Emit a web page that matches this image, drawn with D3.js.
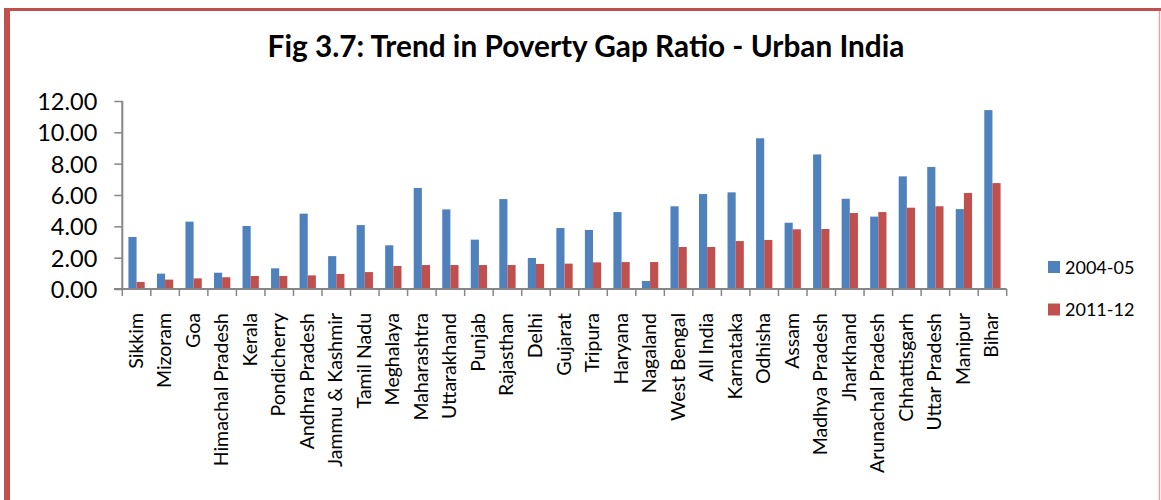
<!DOCTYPE html>
<html>
<head>
<meta charset="utf-8">
<script src="https://cdn.jsdelivr.net/npm/d3@7"></script>
<style>
    body { margin: 0; background: #fff; }
    text { font-family: Lato, "Open Sans", sans-serif; fill: #000; }
</style>
</head>
<body>
<script>
// chart data
var states = ["Sikkim", "Mizoram", "Goa", "Himachal Pradesh", "Kerala",
    "Pondicherry", "Andhra Pradesh", "Jammu & Kashmir", "Tamil Nadu",
    "Meghalaya", "Maharashtra", "Uttarakhand", "Punjab", "Rajasthan", "Delhi",
    "Gujarat", "Tripura", "Haryana", "Nagaland", "West Bengal", "All India",
    "Karnataka", "Odhisha", "Assam", "Madhya Pradesh", "Jharkhand",
    "Arunachal Pradesh", "Chhattisgarh", "Uttar Pradesh", "Manipur", "Bihar"];

var pgr2004 = [3.32, 0.98, 4.30, 1.04, 4.02, 1.32, 4.81, 2.10, 4.08, 2.79,
    6.45, 5.08, 3.15, 5.74, 1.98, 3.89, 3.77, 4.91, 0.51, 5.28, 6.06,
    6.17, 9.62, 4.23, 8.59, 5.76, 4.62, 7.19, 7.79, 5.10, 11.42];

var pgr2011 = [0.45, 0.60, 0.68, 0.75, 0.83, 0.83, 0.87, 0.96, 1.08, 1.47,
    1.53, 1.53, 1.53, 1.53, 1.60, 1.62, 1.70, 1.72, 1.72, 2.68, 2.68,
    3.06, 3.13, 3.81, 3.83, 4.85, 4.91, 5.19, 5.28, 6.13, 6.76];

var seriesNames = ["2004-05", "2011-12"];
var seriesColors = ["#4f81bd", "#c0504d"];
var yTicks = [0, 2, 4, 6, 8, 10, 12];

var W = 1161, H = 500;

var svg = d3.select("body").append("svg")
    .attr("width", W)
    .attr("height", H);

// outer chart border (bottom is cut off in the picture)
svg.append("line")
    .attr("x1", 4).attr("y1", 9.5).attr("x2", W).attr("y2", 9.5)
    .style("stroke", "#c0504d").style("stroke-width", 3);
svg.append("line")
    .attr("x1", 7).attr("y1", 8).attr("x2", 7).attr("y2", H)
    .style("stroke", "#c0504d").style("stroke-width", 6);
svg.append("line")
    .attr("x1", 1159.5).attr("y1", 11).attr("x2", 1159.5).attr("y2", H)
    .style("stroke", "#e3a3a2").style("stroke-width", 1.5);

// title, sized so it spans the same width as in the picture
var title = svg.append("text")
    .attr("x", 586)
    .attr("y", 57)
    .attr("text-anchor", "middle")
    .style("font-weight", "bold")
    .style("font-size", "26px")
    .text("Fig 3.7: Trend in Poverty Gap Ratio - Urban India");
var tw = title.node().getComputedTextLength();
title.style("font-size", (26 * 637 / tw) + "px");

var x = d3.scaleBand().domain(states).range([122.3, 1006.7]);
var y = d3.scaleLinear().domain([0, 12]).range([289, 101]);
var xs = d3.scaleBand().domain(seriesNames)
    .range([0, x.bandwidth()])
    .paddingInner(0)
    .paddingOuter(0.75);

var rows = states.map(function(s, i) {
    return {state: s, values: [pgr2004[i], pgr2011[i]]};
});

var groups = svg.append("g").selectAll("g")
    .data(rows)
    .enter().append("g")
    .attr("transform", function(d) { return "translate(" + x(d.state) + ",0)"; });

groups.selectAll("rect")
    .data(function(d) {
        return d.values.map(function(v, k) { return {k: k, v: v}; });
    })
    .enter().append("rect")
    .attr("x", function(d) { return xs(seriesNames[d.k]); })
    .attr("width", xs.bandwidth())
    .attr("y", function(d) { return y(d.v); })
    .attr("height", function(d) { return y(0) - y(d.v); })
    .style("fill", function(d) { return seriesColors[d.k]; });

// y axis
var yAxis = d3.axisLeft(y)
    .tickValues(yTicks)
    .tickSize(8)
    .tickPadding(17)
    .tickFormat(d3.format(".2f"));

var gy = svg.append("g")
    .attr("transform", "translate(122.3,0)")
    .call(yAxis);
gy.select(".domain").attr("d", "M0,101V289");
gy.selectAll("line").style("stroke", "#868686").style("stroke-width", 1.5);
gy.select(".domain").style("stroke", "#868686").style("stroke-width", 2);
gy.selectAll("text")
    .style("font-size", "23.5px")
    .style("font-family", "Lato, sans-serif")
    .attr("dy", "0.36em");

// x axis: ticks between categories
var gx = svg.append("g")
    .attr("transform", "translate(0,289)");
gx.append("line")
    .attr("x1", 114).attr("x2", 1006.7)
    .style("stroke", "#868686").style("stroke-width", 2);
var edges = states.map(function(s) { return x(s); }).concat([x.range()[1]]);
gx.selectAll("line.tick")
    .data(edges)
    .enter().append("line")
    .attr("class", "tick")
    .attr("x1", function(d) { return d; })
    .attr("x2", function(d) { return d; })
    .attr("y1", 0).attr("y2", 7)
    .style("stroke", "#868686").style("stroke-width", 1.5);

gx.selectAll("text")
    .data(states)
    .enter().append("text")
    .attr("transform", function(d) {
        return "translate(" + (x(d) + x.bandwidth() / 2 + 6) + ",24) rotate(-90)";
    })
    .attr("text-anchor", "end")
    .style("font-size", "19.5px")
    .text(function(d) { return d; });

// legend
var legend = svg.append("g").selectAll("g")
    .data(seriesNames)
    .enter().append("g")
    .attr("transform", function(d, i) {
        return "translate(1048," + (261 + i * 42.5) + ")";
    });
legend.append("rect")
    .attr("width", 12).attr("height", 12)
    .style("fill", function(d, i) { return seriesColors[i]; });
legend.append("text")
    .attr("x", 17)
    .attr("y", 12.5)
    .style("font-size", "18px")
    .text(function(d) { return d; });
</script>
</body>
</html>
